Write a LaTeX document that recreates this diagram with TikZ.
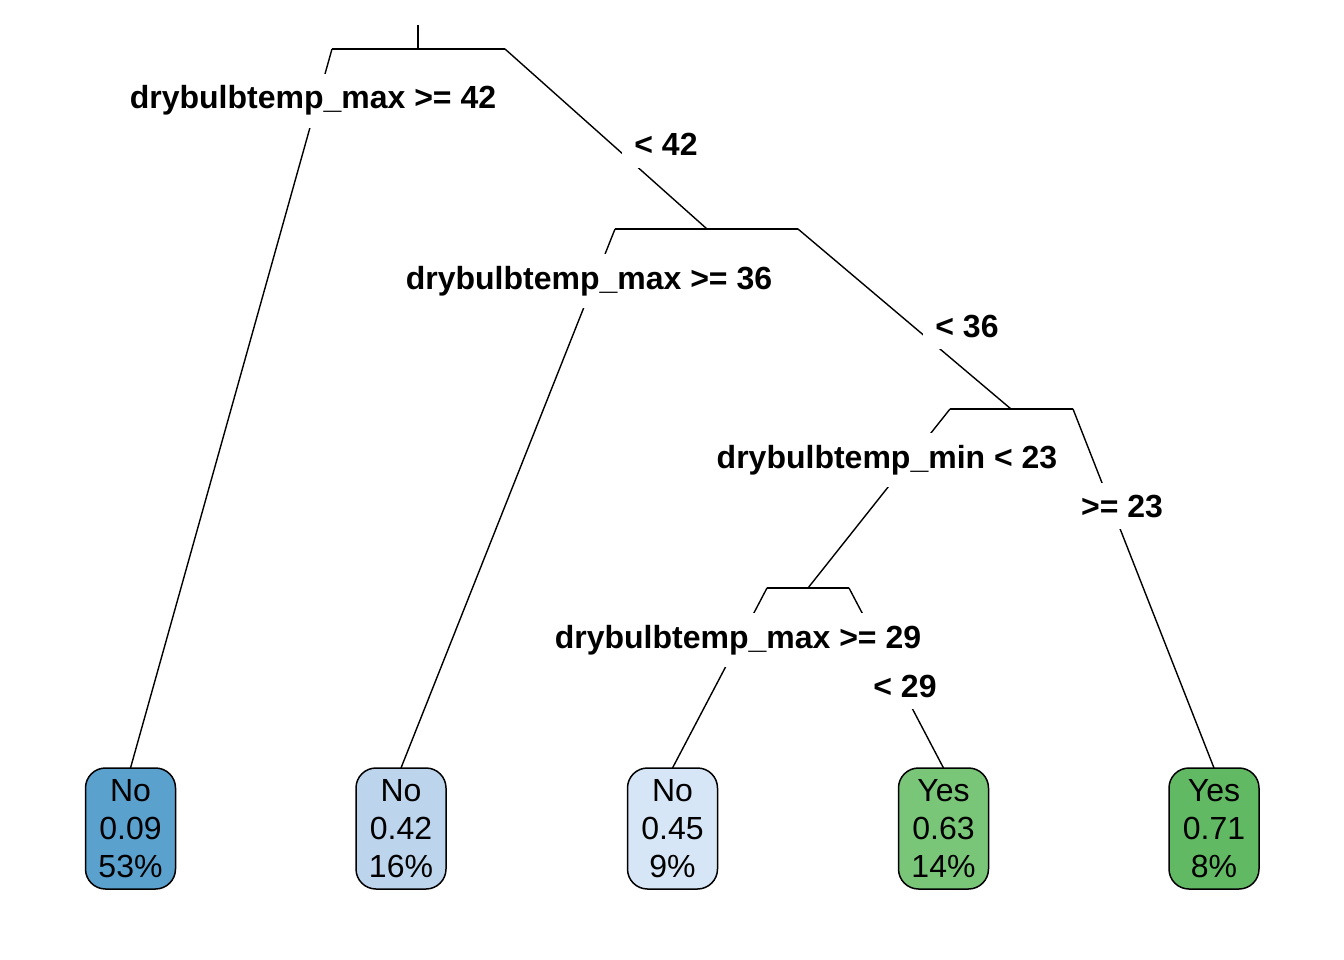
\documentclass[tikz,border=0pt]{standalone}
\usepackage{fontspec}
\setmainfont{Liberation Sans}
\begin{document}
\begin{tikzpicture}[x=1pt,y=-1pt,
  edge/.style={draw=black,line width=1.4pt},
  splitlab/.style={fill=white,inner xsep=12pt,inner ysep=12pt,anchor=base,font=\fontsize{32}{38}\selectfont\bfseries},
  leaf/.style={draw=black,line width=1.5pt,rounded corners=20pt,minimum width=90pt,minimum height=121pt,inner sep=0pt,align=center,font=\fontsize{32}{38}\selectfont}]
\useasboundingbox (0,0) rectangle (1344,960);
% junctions and bar ends
\coordinate (rtop) at (418,25);
\coordinate (r) at (418,49);
\coordinate (rl) at (332,49);
\coordinate (rr) at (505,49);
\coordinate (a) at (707,229);
\coordinate (al) at (615,229);
\coordinate (ar) at (798,229);
\coordinate (b) at (1011,409);
\coordinate (bl) at (950,409);
\coordinate (br) at (1073,409);
\coordinate (c) at (808,588);
\coordinate (cl) at (767,588);
\coordinate (cr) at (849,588);
% leaves (positions)
\path (130.5,828.5) coordinate (p1) (401,828.5) coordinate (p2) (672.5,828.5) coordinate (p3) (943.5,828.5) coordinate (p4) (1214,828.5) coordinate (p5);
% edges
\draw[edge] (rtop) -- (r);
\draw[edge] (rl) -- (rr);
\draw[edge] (al) -- (ar);
\draw[edge] (bl) -- (br);
\draw[edge] (cl) -- (cr);
\draw[edge] (rl) -- (p1 |- 0,768);
\draw[edge] (rr) -- (a);
\draw[edge] (al) -- (p2 |- 0,768);
\draw[edge] (ar) -- (b);
\draw[edge] (bl) -- (c);
\draw[edge] (br) -- (p5 |- 0,768);
\draw[edge] (cl) -- (p3 |- 0,768);
\draw[edge] (cr) -- (p4 |- 0,768);
% split labels
\node[splitlab] (l1) at (313,109) {drybulbtemp\_max >= 42};
\node[splitlab] (r1) at (666,156) {< 42};
\node[splitlab] (l2) at (589,289) {drybulbtemp\_max >= 36};
\node[splitlab] (r2) at (967,337) {< 36};
\node[splitlab] (l3) at (887,468) {drybulbtemp\_min < 23};
\node[splitlab] (r3) at (1122,517) {>= 23};
\node[splitlab] (l4) at (738,648) {drybulbtemp\_max >= 29};
\node[splitlab] (r4) at (905,697) {< 29};
% leaves
\definecolor{c1}{RGB}{91,161,206}
\definecolor{c2}{RGB}{189,212,237}
\definecolor{c3}{RGB}{215,230,246}
\definecolor{c4}{RGB}{122,198,121}
\definecolor{c5}{RGB}{98,185,99}
\node[leaf,fill=c1] (n1) at (p1) {No\\0.09\\53\%};
\node[leaf,fill=c2] (n2) at (p2) {No\\0.42\\16\%};
\node[leaf,fill=c3] (n3) at (p3) {No\\0.45\\9\%};
\node[leaf,fill=c4] (n4) at (p4) {Yes\\0.63\\14\%};
\node[leaf,fill=c5] (n5) at (p5) {Yes\\0.71\\8\%};
\end{tikzpicture}
\end{document}
